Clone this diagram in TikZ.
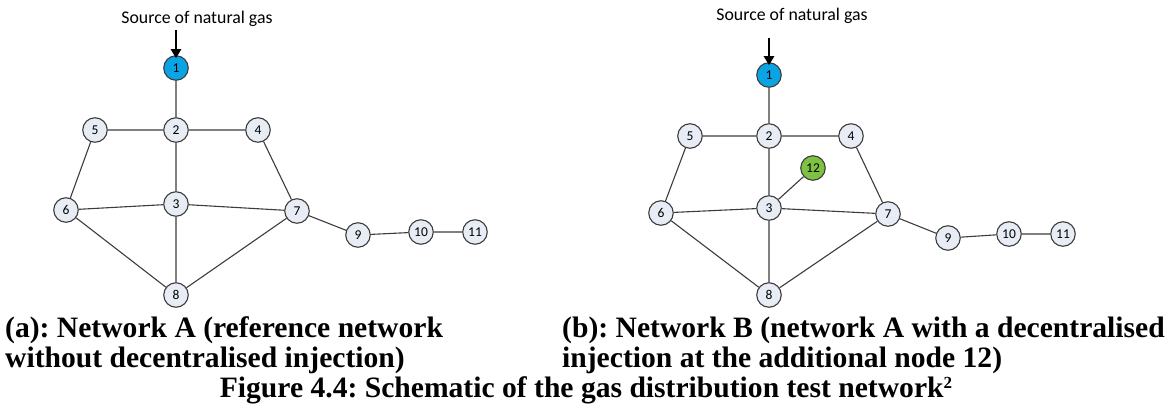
\documentclass[tikz,border=0pt]{standalone}
\usepackage{fontspec}
\setmainfont{Liberation Serif}
\newfontfamily\nodefont{Carlito}
\usetikzlibrary{arrows.meta}
\definecolor{nodefill}{HTML}{E7ECF5}
\definecolor{nodeline}{HTML}{3C3C3C}
\definecolor{srcblue}{HTML}{0AA3E3}
\definecolor{injgreen}{HTML}{7DC242}
\frenchspacing
\begin{document}
\begin{tikzpicture}[x=1pt,y=-1pt,
  gasnode/.style={circle,draw=nodeline,line width=1.1pt,fill=nodefill,
    minimum size=24.5pt,inner sep=0pt,font=\nodefont\fontsize{13.5}{13.5}\selectfont},
  srcnode/.style={gasnode,fill=srcblue},
  injnode/.style={gasnode,fill=injgreen},
  pipe/.style={draw=nodeline,line width=1.1pt},
  feed/.style={line width=2.6pt,-{Triangle[length=9pt,width=10pt]}},
  srclabel/.style={font=\nodefont\fontsize{17.8}{17.8}\selectfont,inner sep=0pt},
  capline/.style={font=\bfseries\fontsize{29.6}{29.6}\selectfont,inner sep=0pt}]
\useasboundingbox (0,0) rectangle (1171,418);

% ---- Network A ----
\node[srclabel] (asrc) at (197,19) {Source of natural gas};
\coordinate (afeed) at (176,30);
\node[srcnode] (a1) at (176,68) {1};
\node[gasnode] (a2) at (176,130) {2};
\node[gasnode] (a5) at (95,130) {5};
\node[gasnode] (a4) at (258,130) {4};
\node[gasnode] (a3) at (176,204) {3};
\node[gasnode] (a6) at (66,210) {6};
\node[gasnode] (a7) at (297,211) {7};
\node[gasnode] (a8) at (176,295) {8};
\node[gasnode] (a9) at (358,235) {9};
\node[gasnode] (a10) at (421,232) {10};
\node[gasnode] (a11) at (475,232) {11};
\draw[feed] (afeed) -- ([yshift=-3pt]a1.north);
\path[pipe] (a1) -- (a2) (a5) -- (a2) (a2) -- (a4) (a2) -- (a3)
  (a5) -- (a6) (a4) -- (a7) (a6) -- (a3) (a3) -- (a7) (a3) -- (a8)
  (a6) -- (a8) (a7) -- (a8) (a7) -- (a9) (a9) -- (a10) (a10) -- (a11);

% ---- Network B ----
\node[srclabel] (bsrc) at (792,16) {Source of natural gas};
\coordinate (bfeed) at (769,38);
\node[srcnode] (b1) at (769,75) {1};
\node[gasnode] (b2) at (769,136) {2};
\node[gasnode] (b5) at (690,136) {5};
\node[gasnode] (b4) at (851,136) {4};
\node[injnode] (b12) at (813,168) {12};
\node[gasnode] (b3) at (769,208) {3};
\node[gasnode] (b6) at (661,213) {6};
\node[gasnode] (b7) at (888,214) {7};
\node[gasnode] (b8) at (769,295) {8};
\node[gasnode] (b9) at (948,238) {9};
\node[gasnode] (b10) at (1009,234) {10};
\node[gasnode] (b11) at (1063,234) {11};
\draw[feed] (bfeed) -- ([yshift=-3pt]b1.north);
\path[pipe] (b1) -- (b2) (b5) -- (b2) (b2) -- (b4) (b2) -- (b3)
  (b3) -- (b12)
  (b5) -- (b6) (b4) -- (b7) (b6) -- (b3) (b3) -- (b7) (b3) -- (b8)
  (b6) -- (b8) (b7) -- (b8) (b7) -- (b9) (b9) -- (b10) (b10) -- (b11);

% ---- captions ----
\node[capline,anchor=base west] (capa1) at (5,337) {(a): Network A (reference network};
\node[capline,anchor=base west] (capa2) at (5,367) {without decentralised injection)};
\node[capline,anchor=base west] (capb1) at (562,337) {(b): Network B (network A with a decentralised};
\node[capline,anchor=base west] (capb2) at (562,367) {injection at the additional node 12)};
\node[capline,anchor=base] (capfig) at (586,397) {Figure 4.4: Schematic of the gas distribution test network\raisebox{9pt}{\fontsize{17}{17}\selectfont 2}};
\end{tikzpicture}
\end{document}
